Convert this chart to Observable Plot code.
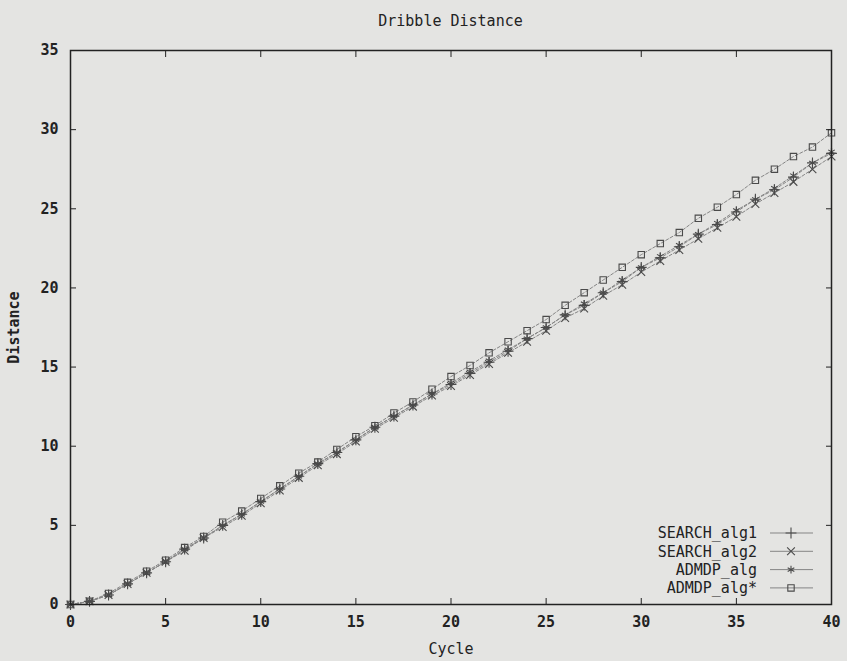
<!DOCTYPE html>
<html>
<head>
<meta charset="utf-8">
<script src="https://cdn.jsdelivr.net/npm/d3@7"></script>
<script src="https://cdn.jsdelivr.net/npm/@observablehq/plot@0.6"></script>
<style>
  html, body { margin: 0; padding: 0; background: #e4e4e2; }
  #wrap { width: 847px; height: 661px; position: relative; overflow: hidden; }
  #title { height: 40px; box-sizing: border-box; padding: 12px 16px 0 70px; text-align: center;
           font-family: "DejaVu Sans Mono", monospace; font-size: 15px; color: #222; line-height: 18px; }
</style>
</head>
<body>
<div id="wrap">
  <div id="title">Dribble Distance</div>
  <div id="chart"></div>
</div>
<script>
const chartTitle = "Dribble Distance";
const xLabel = "Cycle";
const yLabel = "Distance";
const cycles = d3.range(0, 41);
const seriesNames = ["SEARCH_alg1", "SEARCH_alg2", "ADMDP_alg", "ADMDP_alg*"];
const seriesSymbols = ["plus", "times", "asterisk", "square"];
const searchAlg1 = [0,0.2,0.6,1.3,2.0,2.7,3.5,4.2,5.0,5.7,6.5,7.3,8.1,8.9,9.6,10.4,11.2,11.9,12.6,13.3,13.9,14.6,15.3,16.0,16.8,17.5,18.3,18.9,19.7,20.4,21.3,21.9,22.6,23.4,24.0,24.8,25.6,26.2,27.0,27.9,28.5];
const searchAlg2 = [0,0.2,0.6,1.3,2.0,2.7,3.4,4.2,4.9,5.6,6.4,7.2,8.0,8.8,9.5,10.3,11.1,11.8,12.5,13.2,13.8,14.5,15.2,15.9,16.6,17.3,18.1,18.7,19.5,20.2,21.0,21.7,22.4,23.1,23.8,24.5,25.3,26.0,26.7,27.5,28.3];
const admdpAlg = [0,0.2,0.6,1.3,2.0,2.7,3.5,4.2,5.0,5.7,6.5,7.3,8.1,8.9,9.6,10.4,11.2,11.9,12.6,13.3,14.0,14.7,15.4,16.1,16.8,17.5,18.3,19.0,19.7,20.5,21.3,22.0,22.7,23.4,24.1,24.9,25.6,26.3,27.1,27.9,28.6];
const admdpAlgStar = [0,0.2,0.7,1.4,2.1,2.8,3.6,4.3,5.2,5.9,6.7,7.5,8.3,9.0,9.8,10.6,11.3,12.1,12.8,13.6,14.4,15.1,15.9,16.6,17.3,18.0,18.9,19.7,20.5,21.3,22.1,22.8,23.5,24.4,25.1,25.9,26.8,27.5,28.3,28.9,29.8];
const xTicks = [0, 5, 10, 15, 20, 25, 30, 35, 40];
const yTicks = [0, 5, 10, 15, 20, 25, 30, 35];

document.getElementById("title").textContent = chartTitle;

const seriesValues = [searchAlg1, searchAlg2, admdpAlg, admdpAlgStar];
const rows = [];
seriesNames.forEach((name, i) => {
  cycles.forEach((c, j) => rows.push({series: name, cycle: c, distance: seriesValues[i][j]}));
});

const font = "DejaVu Sans Mono";
const W = 847, H = 621, mL = 70, mR = 16, mT = 10, mB = 57;
const R = 3.6;

const chart = Plot.plot({
  width: W, height: H,
  marginLeft: mL, marginRight: mR, marginTop: mT, marginBottom: mB,
  x: {domain: [0, 40]},
  y: {domain: [0, 35]},
  symbol: {domain: seriesNames, range: seriesSymbols},
  style: {background: "transparent", fontFamily: font, fontSize: "15px", color: "#222"},
  marks: [
    Plot.line(rows, {x: "cycle", y: "distance", z: "series", stroke: "#858585", strokeWidth: 1, strokeDasharray: "3,2"}),
    Plot.dot(rows, {x: "cycle", y: "distance", symbol: "series", stroke: "#4a4a4a", strokeWidth: 1.1, r: R}),
    Plot.frame({stroke: "#222", strokeWidth: 1.5}),
    Plot.axisX({ticks: xTicks, tickSize: -6, tickPadding: 18, fontWeight: "bold", label: null}),
    Plot.axisX({ticks: [], label: xLabel, labelAnchor: "center", labelOffset: 49, labelArrow: "none"}),
    Plot.axisX({anchor: "top", ticks: xTicks, tickSize: -6, tickFormat: () => "", label: null}),
    Plot.axisY({ticks: yTicks, tickSize: -6, tickPadding: 18, fontWeight: "bold",
                label: yLabel, labelAnchor: "center", labelOffset: 62, labelArrow: "none"}),
    Plot.axisY({anchor: "right", ticks: yTicks, tickSize: -6, tickFormat: () => "", label: null})
  ]
});
document.getElementById("chart").appendChild(chart);

// Legend (inside the frame, bottom-right)
const svg = d3.select(chart);
const right = W - mR, bottom = H - mB;
const symMap = {plus: d3.symbolPlus, times: d3.symbolTimes, asterisk: d3.symbolAsterisk, square: d3.symbolSquare};
const lg = svg.append("g").attr("font-family", font).attr("font-size", 15);
seriesNames.forEach((name, i) => {
  const y = bottom - 71 + i * 18.3;
  lg.append("text").attr("x", right - 74).attr("y", y).attr("dy", "0.35em")
    .attr("text-anchor", "end").attr("fill", "#222").text(name);
  lg.append("line").attr("x1", right - 61).attr("x2", right - 18).attr("y1", y).attr("y2", y)
    .attr("stroke", "#858585").attr("stroke-width", 1);
  lg.append("path").attr("transform", `translate(${right - 40},${y})`)
    .attr("d", d3.symbol(symMap[seriesSymbols[i]], Math.PI * R * R)())
    .attr("fill", "none").attr("stroke", "#4a4a4a").attr("stroke-width", 1.1);
});
</script>
</body>
</html>
